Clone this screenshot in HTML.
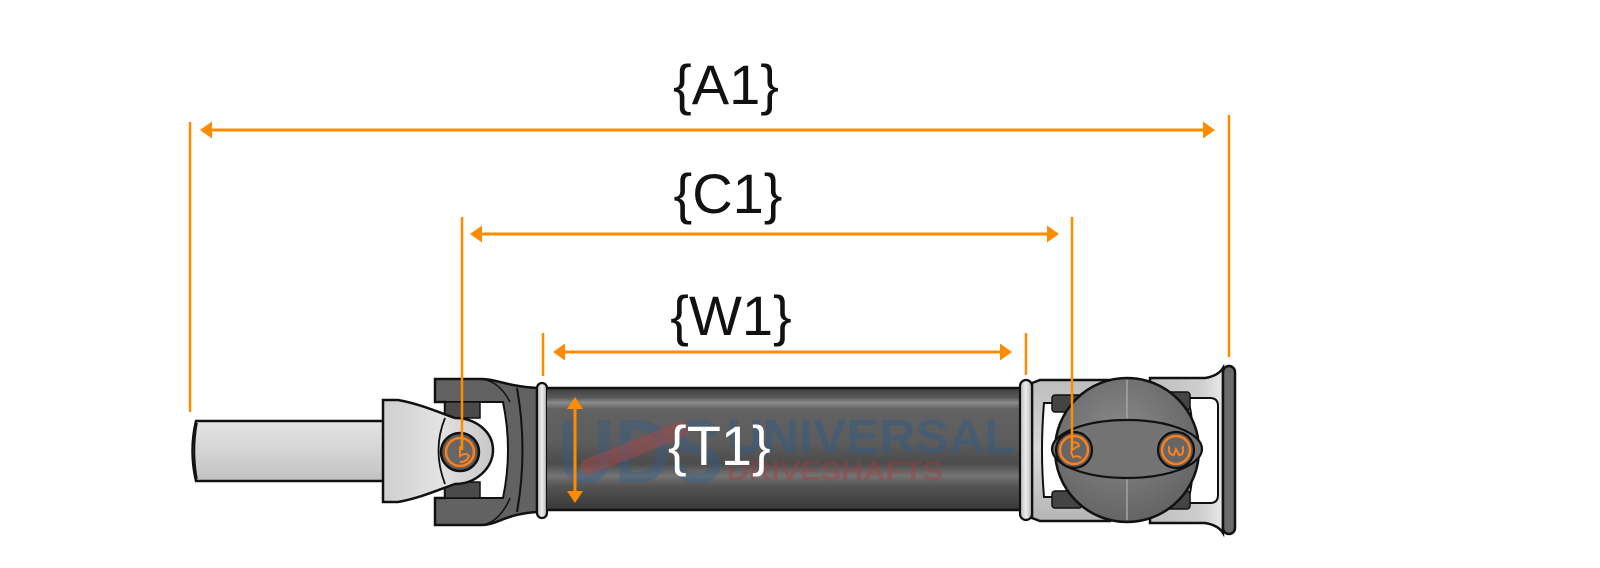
<!DOCTYPE html>
<html>
<head>
<meta charset="utf-8">
<style>
html,body{margin:0;padding:0;background:#fff;}
svg{display:block;}
</style>
</head>
<body>
<svg width="1600" height="568" viewBox="0 0 1600 568" xmlns="http://www.w3.org/2000/svg">
<defs>
  <linearGradient id="stub" x1="0" y1="0" x2="0" y2="1">
    <stop offset="0" stop-color="#e4e4e4"/>
    <stop offset="0.45" stop-color="#d6d6d6"/>
    <stop offset="1" stop-color="#c2c2c2"/>
  </linearGradient>
  <linearGradient id="slip" x1="0" y1="0" x2="1" y2="0">
    <stop offset="0" stop-color="#cfcfcf"/>
    <stop offset="0.5" stop-color="#e2e2e2"/>
    <stop offset="1" stop-color="#c8c8c8"/>
  </linearGradient>
  <linearGradient id="tube" x1="0" y1="0" x2="0" y2="1">
    <stop offset="0" stop-color="#3e3e3e"/>
    <stop offset="0.08" stop-color="#5a5a5a"/>
    <stop offset="0.12" stop-color="#8c8c8c"/>
    <stop offset="0.17" stop-color="#626262"/>
    <stop offset="0.45" stop-color="#5c5c5c"/>
    <stop offset="0.62" stop-color="#4c4c4c"/>
    <stop offset="0.72" stop-color="#747474"/>
    <stop offset="0.8" stop-color="#555555"/>
    <stop offset="1" stop-color="#383838"/>
  </linearGradient>
  <linearGradient id="lyoke" x1="0" y1="0" x2="0" y2="1">
    <stop offset="0" stop-color="#bdbdbd"/>
    <stop offset="0.5" stop-color="#d9d9d9"/>
    <stop offset="1" stop-color="#b5b5b5"/>
  </linearGradient>
  <linearGradient id="ryoke" x1="0" y1="0" x2="1" y2="0">
    <stop offset="0" stop-color="#bdbdbd"/>
    <stop offset="0.7" stop-color="#cfcfcf"/>
    <stop offset="1" stop-color="#e8e8e8"/>
  </linearGradient>
  <radialGradient id="ball" cx="0.45" cy="0.4" r="0.7">
    <stop offset="0" stop-color="#8a8a8a"/>
    <stop offset="1" stop-color="#5e5e5e"/>
  </radialGradient>
  <linearGradient id="ring" x1="0" y1="0" x2="1" y2="0">
    <stop offset="0" stop-color="#b8b8b8"/>
    <stop offset="0.5" stop-color="#ededed"/>
    <stop offset="1" stop-color="#b0b0b0"/>
  </linearGradient>
  <clipPath id="tubeclip"><rect x="547" y="389" width="473" height="120"/></clipPath>
</defs>

<!-- ===== Stub shaft ===== -->
<path d="M196,421 L384,421 L384,481 L196,481 Q189,451 196,421 Z" fill="url(#stub)" stroke="#111" stroke-width="2.5"/>
<path d="M197,423 Q192,451 197,479" fill="none" stroke="#111" stroke-width="1.5"/>

<!-- ===== Tube-side yoke (dark) ===== -->
<path d="M435,379 L482,379 C497,379 505,386 537,388 L537,512 C505,514 497,525 482,525 L435,525 L435,498 L445,498 L445,402 L435,402 Z" fill="#626262" stroke="#111" stroke-width="2.5"/>
<path d="M445,402 L503,402 Q513,450 503,498 L445,498 Z" fill="#fff" stroke="#111" stroke-width="2"/>
<path d="M517,388 Q528,450 517,512" fill="none" stroke="#111" stroke-width="2"/>
<path d="M482,379 C496,381 505,392 510,402" fill="none" stroke="#111" stroke-width="1.5"/>
<path d="M482,525 C496,523 505,510 510,498" fill="none" stroke="#111" stroke-width="1.5"/>
<rect x="445" y="402" width="35" height="16" fill="#4a4a4a" stroke="#111" stroke-width="1.5"/>
<rect x="445" y="482" width="35" height="16" fill="#4a4a4a" stroke="#111" stroke-width="1.5"/>

<!-- ===== Slip yoke (light) ===== -->
<path d="M383,400 L398,400 C420,404 438,412 455,418 C476,418 493,432 493,450 C493,468 476,484 455,484 C438,490 420,498 398,502 L383,502 Z" fill="url(#slip)" stroke="#111" stroke-width="2.5"/>
<path d="M445,418 Q432,450 445,484" fill="none" stroke="#111" stroke-width="1.8"/>
<circle cx="460" cy="452" r="19" fill="#5c5c5c" stroke="#111" stroke-width="2.5"/>
<circle cx="460" cy="452" r="14" fill="#666" stroke="#ff7f1a" stroke-width="2.5"/>
<path d="M460,446 L460,456 Q466,452 469,456 Q467,462 460,462" fill="none" stroke="#ff7f1a" stroke-width="2"/>

<!-- ===== Ring left ===== -->
<rect x="537" y="383" width="10" height="135" rx="5" fill="url(#ring)" stroke="#111" stroke-width="2.2"/>

<!-- ===== Tube ===== -->
<rect x="547" y="388" width="473" height="122" fill="url(#tube)"/>
<g clip-path="url(#tubeclip)">
  <text x="558" y="482" font-family="Liberation Sans, sans-serif" font-weight="bold" font-size="90" textLength="165" lengthAdjust="spacingAndGlyphs" fill="#2f5c8a" fill-opacity="0.4">UDS</text>
  <g transform="rotate(-22 635 448)" opacity="0.45">
    <rect x="578" y="440" width="115" height="16" rx="6" fill="#b04848"/>
    <circle cx="600" cy="448" r="8" fill="#b04848"/>
    <circle cx="672" cy="448" r="8" fill="#b04848"/>
  </g>
  <text x="727" y="453" font-family="Liberation Sans, sans-serif" font-weight="bold" font-size="48" textLength="288" lengthAdjust="spacingAndGlyphs" fill="#2f5c8a" fill-opacity="0.45">UNIVERSAL</text>
  <text x="727" y="480" font-family="Liberation Sans, sans-serif" font-weight="bold" font-size="27" textLength="216" lengthAdjust="spacingAndGlyphs" fill="#b03a3a" fill-opacity="0.4">DRIVESHAFTS</text>
</g>
<line x1="547" y1="388" x2="1020" y2="388" stroke="#111" stroke-width="2.5"/>
<line x1="547" y1="510" x2="1020" y2="510" stroke="#111" stroke-width="2.5"/>

<!-- T1 label -->
<text x="668" y="465" font-family="Liberation Sans, sans-serif" font-size="56" fill="#ffffff">{T1}</text>
<line x1="575" y1="404" x2="575" y2="496" stroke="#ff8c00" stroke-width="3"/>
<polygon points="575,397 567,409 583,409" fill="#ff8c00"/>
<polygon points="575,503 567,491 583,491" fill="#ff8c00"/>

<!-- ===== Right U-joint ===== -->
<path d="M1032,383 L1040,380 L1110,380 L1110,521 L1040,521 L1032,518 Z" fill="url(#lyoke)" stroke="#111" stroke-width="2.5"/>
<path d="M1044,403 Q1040,450 1044,497 L1075,497 L1075,403 Z" fill="#fff" stroke="#111" stroke-width="2"/>
<rect x="1052" y="395" width="30" height="17" rx="3" fill="#444" stroke="#111" stroke-width="1.5"/>
<rect x="1052" y="491" width="30" height="17" rx="3" fill="#444" stroke="#111" stroke-width="1.5"/>

<path d="M1150,378 L1205,378 Q1218,376 1223,368 L1223,533 Q1218,525 1205,523 L1150,523 Z" fill="url(#ryoke)" stroke="#111" stroke-width="2.5"/>
<path d="M1188,398 L1210,398 Q1218,398 1218,406 L1218,495 Q1218,503 1210,503 L1188,503 Q1200,450 1188,398 Z" fill="#fff" stroke="#111" stroke-width="2"/>
<rect x="1164" y="392" width="26" height="18" rx="3" fill="#444" stroke="#111" stroke-width="1.5"/>
<rect x="1164" y="491" width="26" height="18" rx="3" fill="#444" stroke="#111" stroke-width="1.5"/>

<rect x="1223" y="366" width="12" height="168" rx="6" fill="#6a6a6a" stroke="#111" stroke-width="2.5"/>

<circle cx="1127" cy="450" r="72" fill="url(#ball)" stroke="#111" stroke-width="2.5"/>
<line x1="1127" y1="380" x2="1127" y2="520" stroke="#a8a8a8" stroke-width="2" opacity="0.7"/>
<ellipse cx="1127" cy="449" rx="75" ry="29" fill="#737373" stroke="#111" stroke-width="2.2"/>
<circle cx="1074" cy="450" r="18" fill="#5a5a5a" stroke="#111" stroke-width="2.2"/>
<circle cx="1074" cy="450" r="14" fill="#666" stroke="#ff7f1a" stroke-width="2.5"/>
<path d="M1071,443 Q1078,441 1079,446 Q1072,449 1071,452 L1073,457 Q1078,455 1081,458" fill="none" stroke="#ff7f1a" stroke-width="2"/>
<circle cx="1176" cy="450" r="18" fill="#5a5a5a" stroke="#111" stroke-width="2.2"/>
<circle cx="1176" cy="450" r="14" fill="#666" stroke="#ff7f1a" stroke-width="2.5"/>
<path d="M1169,446 L1169,451 Q1170,455 1174,455 L1176,449 L1179,455 Q1183,455 1183,451 L1183,446" fill="none" stroke="#ff7f1a" stroke-width="2"/>

<rect x="1020" y="380" width="12" height="140" rx="6" fill="url(#ring)" stroke="#111" stroke-width="2.2"/>

<!-- ===== Dimension lines ===== -->
<g stroke="#ff8c00" stroke-width="2.5" fill="none">
  <line x1="190" y1="122" x2="190" y2="412"/>
  <line x1="1229" y1="115" x2="1229" y2="357"/>
  <line x1="208" y1="130" x2="1207" y2="130" stroke-width="3"/>
  <line x1="462" y1="217" x2="462" y2="450"/>
  <line x1="1072" y1="217" x2="1072" y2="450"/>
  <line x1="478" y1="234" x2="1051" y2="234" stroke-width="3"/>
  <line x1="543" y1="333" x2="543" y2="376"/>
  <line x1="1026" y1="333" x2="1026" y2="375"/>
  <line x1="561" y1="352" x2="1004" y2="352" stroke-width="3"/>
</g>
<g fill="#ff8c00">
  <polygon points="200,130 212,121.5 212,138.5"/>
  <polygon points="1215,130 1203,121.5 1203,138.5"/>
  <polygon points="470,234 482,225.5 482,242.5"/>
  <polygon points="1059,234 1047,225.5 1047,242.5"/>
  <polygon points="553,352 565,343.5 565,360.5"/>
  <polygon points="1012,352 1000,343.5 1000,360.5"/>
</g>

<g font-family="Liberation Sans, sans-serif" font-size="56" fill="#111" text-anchor="middle">
  <text x="726" y="104">{A1}</text>
  <text x="728" y="213">{C1}</text>
  <text x="731" y="335">{W1}</text>
</g>
</svg>
</body>
</html>
